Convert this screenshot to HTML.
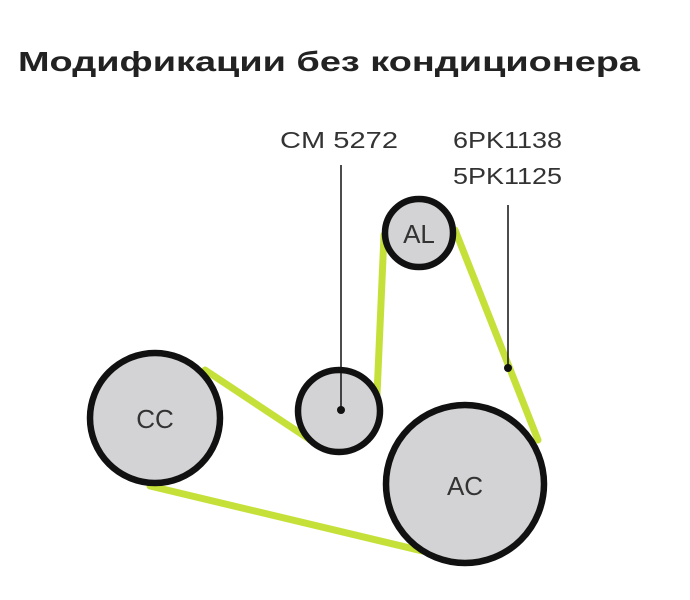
<!DOCTYPE html>
<html><head><meta charset="utf-8"><style>
body{margin:0;background:#fff;width:690px;height:600px;overflow:hidden}
svg{display:block}
</style></head><body>
<svg width="690" height="600" xmlns="http://www.w3.org/2000/svg" font-family="Liberation Sans, sans-serif">
<text x="18" y="71" font-size="28" font-weight="bold" fill="#222" textLength="622" lengthAdjust="spacingAndGlyphs">Модификации без кондиционера</text>
<text x="280" y="148" font-size="23" fill="#333" textLength="118" lengthAdjust="spacingAndGlyphs">CM 5272</text>
<text x="453" y="148" font-size="23" fill="#333" textLength="109" lengthAdjust="spacingAndGlyphs">6PK1138</text>
<text x="453" y="184" font-size="23" fill="#333" textLength="109" lengthAdjust="spacingAndGlyphs">5PK1125</text>
<g stroke="#c6e03a" stroke-width="7" stroke-linecap="round">
<line x1="205" y1="370" x2="315" y2="443"/>
<line x1="150" y1="486" x2="435" y2="554"/>
<line x1="377" y1="395" x2="384" y2="235"/>
<line x1="455" y1="230" x2="538" y2="440"/>
</g>
<g fill="#d3d3d5" stroke="#111" stroke-width="6.5">
<circle cx="155" cy="418" r="65"/>
<circle cx="339" cy="411" r="41"/>
<circle cx="419" cy="233" r="34"/>
<circle cx="465" cy="484" r="79"/>
</g>
<line x1="341" y1="165" x2="341" y2="410" stroke="#111" stroke-width="1.5"/>
<circle cx="341" cy="410" r="4" fill="#111"/>
<line x1="508" y1="205" x2="508" y2="368" stroke="#111" stroke-width="1.5"/>
<circle cx="508" cy="368" r="4" fill="#111"/>
<g font-size="26" fill="#333" text-anchor="middle">
<text x="155" y="428">CC</text>
<text x="419" y="243">AL</text>
<text x="465" y="495">AC</text>
</g>
</svg>
</body></html>
